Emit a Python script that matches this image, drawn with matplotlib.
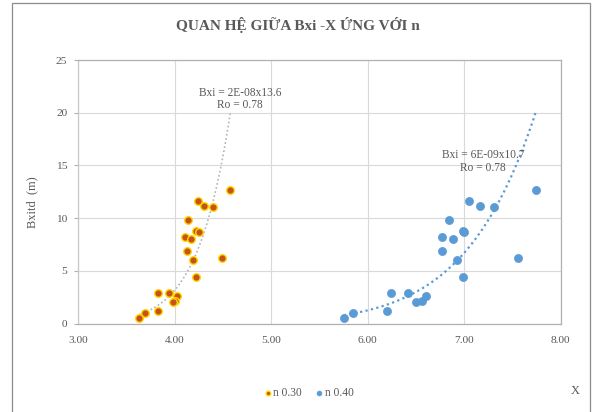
import numpy as np
import matplotlib
matplotlib.use("Agg")
import matplotlib.pyplot as plt
from matplotlib.patches import Rectangle

# ---- data ----
bxi = [12.69, 11.61, 11.14, 11.05, 9.85, 8.81, 8.66, 8.24, 7.98, 6.85, 6.06,
       6.18, 4.45, 2.90, 2.90, 2.59, 2.16, 2.02, 1.16, 0.95, 0.50]
x_n030 = [4.575, 4.243, 4.303, 4.400, 4.136, 4.216, 4.247, 4.108, 4.164, 4.129,
          4.185, 4.488, 4.216, 3.826, 3.945, 4.021, 4.007, 3.986, 3.826, 3.687, 3.631]
x_n040 = [7.751, 7.051, 7.169, 7.309, 6.842, 6.988, 6.999, 6.769, 6.888, 6.769,
          6.929, 7.556, 6.988, 6.239, 6.414, 6.609, 6.567, 6.501, 6.205, 5.850, 5.752]
series_labels = ["n 0.30", "n 0.40"]
x_ticks = [3, 4, 5, 6, 7, 8]
y_ticks = [0, 5, 10, 15, 20, 25]
title = "QUAN HỆ GIỮA Bxi -X ỨNG VỚI n"
ylabel = "Bxitd  (m)"
xlabel = "X"
eq1 = "Bxi = 2E-08x13.6\nRo = 0.78"
eq2 = "Bxi = 6E-09x10.7\nRo = 0.78"

plt.rcParams['font.family'] = ['Liberation Serif', 'DejaVu Serif']
TXT = "#595959"

W, H = 595, 412
fig = plt.figure(figsize=(W / 100, H / 100), dpi=100)

# chart border
fig.patches.append(Rectangle((12 / W, -0.05), (590 - 12) / W, 1.05 - 3 / H,
                             transform=fig.transFigure, fill=False,
                             edgecolor="#8c8c8c", linewidth=0.9))

left, right, top, bottom = 78.3, 560.5, 60, 323.5
ax = fig.add_axes([left / W, 1 - bottom / H, (right - left) / W, (bottom - top) / H])
ax.set_xlim(3, 8)
ax.set_ylim(0, 25)
ax.set_xticks(x_ticks)
ax.set_yticks(y_ticks)
ax.set_xticklabels([f"{v:.2f}" for v in x_ticks])
ax.set_yticklabels([str(v) for v in y_ticks])
ax.grid(True, color="#d9d9d9", linewidth=0.8)
ax.set_axisbelow(True)
for s in ax.spines.values():
    s.set_color("#b0b0b0")
    s.set_linewidth(0.9)
ax.spines['left'].set_color("#c8c8c8")
ax.tick_params(axis='x', length=0, pad=9, labelsize=8.2, labelcolor=TXT)
ax.tick_params(axis='y', length=3, width=0.8, color="#b0b0b0", pad=5,
               labelsize=8.2, labelcolor=TXT)

# trendlines (power regression)
def power_fit(xs, ys):
    b, a = np.polyfit(np.log(xs), np.log(ys), 1)
    return np.exp(a), b

for xs, col, lw in [(x_n030, "#b4b4b4", 1.2), (x_n040, "#5b9bd5", 1.6)]:
    xs = np.asarray(xs)
    a, b = power_fit(xs, np.asarray(bxi))
    xx = np.linspace(xs.min(), xs.max(), 200)
    ax.plot(xx, a * xx ** b, linestyle=(0, (1, 1.5)), color=col, linewidth=lw, zorder=2)

ax.scatter(x_n030, bxi, s=30, color="#c8501a", edgecolors="#ffd700",
           linewidths=1.0, zorder=3, label=series_labels[0])
ax.scatter(x_n040, bxi, s=34, color="#5b9bd5", edgecolors="#5b9bd5",
           linewidths=0.5, zorder=3, label=series_labels[1])

ax.text(4.68, 21.3, eq1, ha="center", va="center", fontsize=8.3, color=TXT,
        linespacing=1.05)
ax.text(7.2, 15.35, eq2, ha="center", va="center", fontsize=8.3, color=TXT,
        linespacing=1.05)

fig.text(297.5 / W, 1 - 25 / H, title, ha="center", va="center",
         fontsize=11, fontweight="bold", color=TXT)
fig.text(32 / W, 1 - 202 / H, ylabel, ha="center", va="center", rotation=90,
         fontsize=9, color=TXT)
fig.text(575 / W, 1 - 391 / H, xlabel, ha="center", va="center",
         fontsize=9, color=TXT)

leg = fig.legend(loc="center", bbox_to_anchor=(308 / W, 1 - 393 / H), ncol=2,
                 frameon=False, fontsize=8.3, markerscale=0.6,
                 handletextpad=0.0, columnspacing=1.0, handlelength=1.0,
                 borderpad=0)
for t in leg.get_texts():
    t.set_color(TXT)

fig.savefig("out.png", dpi=100)
